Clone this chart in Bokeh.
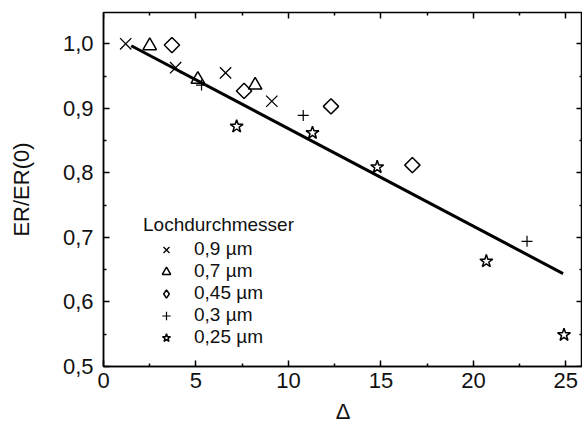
import math
from bokeh.plotting import figure
from bokeh.models import Range1d, LinearAxis, FixedTicker, Legend, LegendItem
from bokeh.embed import file_html
from bokeh.resources import INLINE

# ---- data ----
x_09 = [1.2, 3.9, 6.6, 9.1]
y_09 = [1.000, 0.963, 0.955, 0.911]
x_07 = [2.5, 5.1, 8.2]
y_07 = [0.997, 0.945, 0.936]
x_045 = [3.7, 7.6, 12.3, 16.7]
y_045 = [0.998, 0.927, 0.903, 0.812]
x_03 = [5.3, 10.8, 22.9]
y_03 = [0.936, 0.889, 0.694]
x_025 = [7.2, 11.3, 14.8, 20.7, 24.9]
y_025 = [0.872, 0.862, 0.809, 0.663, 0.549]
fit_x = [1.5, 24.85]
fit_y = [0.997, 0.644]

series_labels = ["0,9 µm", "0,7 µm", "0,45 µm", "0,3 µm", "0,25 µm"]
legend_title = "Lochdurchmesser"
x_title = "Δ"
y_title = "ER/ER(0)"

x_ticks = [0, 5, 10, 15, 20, 25]
x_minor = [2.5, 7.5, 12.5, 17.5, 22.5]
x_tick_labels = ["0", "5", "10", "15", "20", "25"]
y_ticks = [0.5, 0.6, 0.7, 0.8, 0.9, 1.0]
y_minor = [0.55, 0.65, 0.75, 0.85, 0.95, 1.05]
y_tick_labels = ["0,5", "0,6", "0,7", "0,8", "0,9", "1,0"]

FONT = "Liberation Sans"
TXT = "#111111"
X0, X1 = 0, 25.9
Y0, Y1 = 0.5, 1.0485

p = figure(width=582, height=432, output_backend="svg", toolbar_location=None,
           x_range=Range1d(X0, X1), y_range=Range1d(Y0, Y1),
           min_border_left=103, min_border_right=0, min_border_top=12, min_border_bottom=66)
p.xgrid.visible = False
p.ygrid.visible = False
p.outline_line_color = "black"
p.outline_line_width = 1.5
p.background_fill_color = "white"
p.border_fill_color = "white"


def tick_style(ax, length_major=6, length_minor=3):
    ax.major_tick_in = length_major
    ax.major_tick_out = 0
    ax.minor_tick_in = length_minor
    ax.minor_tick_out = 0
    ax.axis_line_width = 1.5
    ax.axis_line_color = "black"
    ax.major_tick_line_width = 1.5
    ax.minor_tick_line_width = 1.5
    ax.major_tick_line_color = "black"
    ax.minor_tick_line_color = "black"


xb = p.below[0]
yl = p.left[0]
for ax, ticks, minor, labels, title in [(xb, x_ticks, x_minor, x_tick_labels, x_title),
                                        (yl, y_ticks, y_minor, y_tick_labels, y_title)]:
    ax.ticker = FixedTicker(ticks=ticks, minor_ticks=minor)
    tick_style(ax)
    ax.major_label_overrides = {t: l for t, l in zip(ticks, labels)}
    ax.major_label_text_font = FONT
    ax.major_label_text_font_size = "22px"
    ax.major_label_text_color = TXT
    ax.axis_label = title
    ax.axis_label_text_font = FONT
    ax.axis_label_text_font_size = "22px"
    ax.axis_label_text_font_style = "normal"
    ax.axis_label_text_color = TXT

xb.major_label_standoff = 6
xb.axis_label_standoff = 8
yl.major_label_standoff = 10
yl.axis_label_standoff = 26

# mirrored ticks on top and right (no labels)
for side, loc, ticks, minor in [("above", Y1, x_ticks, x_minor), ("right", X1, y_ticks, y_minor)]:
    for pos, length in [(ticks, 6), (minor, 3)]:
        ax = LinearAxis(fixed_location=loc, ticker=FixedTicker(ticks=[], minor_ticks=pos),
                        major_label_standoff=0)
        tick_style(ax, 0, length)
        ax.axis_line_color = None
        p.add_layout(ax, side)

# fit line
p.line(fit_x, fit_y, line_color="black", line_width=3)

r1 = p.scatter(x_09, y_09, marker="x", size=16, line_color="black", line_width=1.3)
r2 = p.scatter(x_07, y_07, marker="triangle", size=13.5, fill_color=None, line_color="black", line_width=1.5)
r3 = p.scatter(x_045, y_045, marker="square", angle=math.pi / 4, size=10.8, fill_color=None,
               line_color="black", line_width=1.5)
r4 = p.scatter(x_03, y_03, marker="cross", size=11, line_color="black", line_width=1.2)
r5 = p.scatter(x_025, y_025, marker="star", size=13.5, fill_color=None, line_color="black", line_width=1.5)
# legend symbol for the diamond series (no visible point of its own)
r3_key = p.scatter(x=[float("nan")], y=[float("nan")], marker="diamond", size=14,
                   fill_color=None, line_color="black", line_width=1.5)

legend = Legend(items=[LegendItem(label=l, renderers=[r]) for l, r in
                       zip(series_labels, [r1, r2, r3_key, r4, r5])],
                title=legend_title, location=(40, 18),
                title_text_font=FONT, title_text_font_size="19px", title_text_font_style="normal",
                title_text_color=TXT, title_standoff=2,
                label_text_font=FONT, label_text_font_size="19px", label_text_color=TXT,
                glyph_width=46, glyph_height=21, label_height=21, spacing=0, label_standoff=5,
                padding=0, margin=0, border_line_color=None, background_fill_alpha=0)
p.add_layout(legend)

open("out.html", "w").write(file_html(p, INLINE))
